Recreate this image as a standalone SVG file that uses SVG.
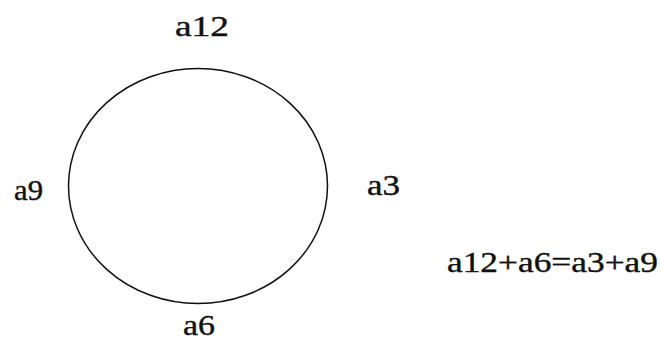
<svg xmlns="http://www.w3.org/2000/svg" width="660" height="343" viewBox="0 0 660 343">
<style>
.t{font-family:"Liberation Serif","Times New Roman",serif;font-size:29px;fill:#111;stroke:#111;stroke-width:0.4;}
</style>
<rect width="660" height="343" fill="#fff"/>
<g id="ring">
<ellipse cx="198" cy="186" rx="129.5" ry="117.5" fill="none" stroke="#111" stroke-width="1.5"/>
</g>
<g id="label-a12"><text class="t" x="175" y="36" textLength="54" lengthAdjust="spacingAndGlyphs">a12</text></g>
<g id="label-a9"><text class="t" x="14" y="200" textLength="29" lengthAdjust="spacingAndGlyphs">a9</text></g>
<g id="label-a3"><text class="t" x="367" y="195" textLength="33" lengthAdjust="spacingAndGlyphs">a3</text></g>
<g id="label-a6"><text class="t" x="183" y="335" textLength="32" lengthAdjust="spacingAndGlyphs">a6</text></g>
<g id="equation"><text class="t" x="447" y="272" textLength="211" lengthAdjust="spacingAndGlyphs">a12+a6=a3+a9</text></g>
</svg>
